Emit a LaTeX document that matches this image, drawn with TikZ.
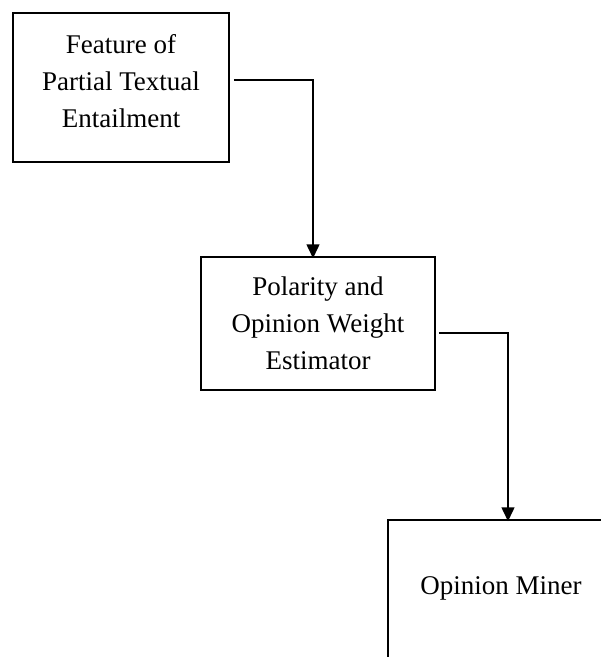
\documentclass[tikz,border=0pt]{standalone}
\usepackage{fontspec}
\setmainfont{Liberation Serif}
\usetikzlibrary{calc, arrows.meta}

\begin{document}
\begin{tikzpicture}[x=1pt, y=-1pt, line width=1.5pt,
	block/.style = {draw, align=center, inner sep=0pt, font=\fontsize{27}{37}\selectfont},
	inlabel/.style = {align=center, inner sep=0pt, font=\fontsize{27}{37}\selectfont},
	flow/.style = {-{Triangle[length=14pt, width=13pt]}}]
					\def\W{601};
					\def\H{657};

					\useasboundingbox (0,0) rectangle (\W,\H);
					\clip (0,0) rectangle (\W,\H);

					\node[block, minimum width=216pt, minimum height=149pt,
						label={[inlabel, yshift=6pt]center:Feature of\\Partial Textual\\Entailment}] (feature) at (121,87.5) {};
					\node[block, minimum width=234pt, minimum height=133pt] (polarity) at (318,323.5) {Polarity and\\Opinion Weight\\Estimator};
					\node[block, minimum width=226pt, minimum height=150pt,
						label={[inlabel, yshift=7pt]center:Opinion Miner}] (miner) at (501,595) {};

					\draw[flow] ($(feature.east)+(4,-7.5)$) -| ($(polarity.north)+(-5,2)$);
					\draw[flow] ($(polarity.east)+(3,9.5)$) -| ($(miner.north)+(7,2)$);
				\end{tikzpicture}
\end{document}
